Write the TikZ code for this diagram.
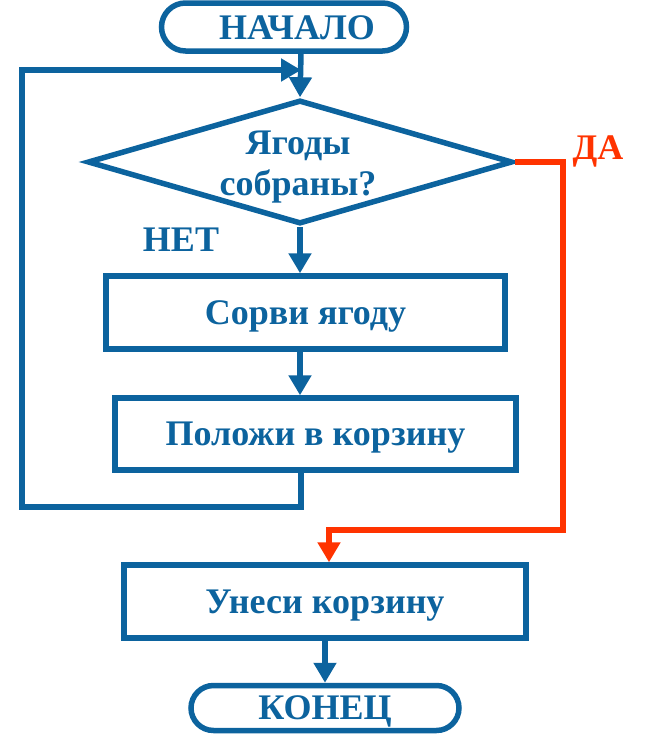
\documentclass[tikz,border=0pt]{standalone}
\usepackage{fontspec}
\setmainfont{Liberation Serif}
\usetikzlibrary{arrows.meta,shapes.misc,shapes.geometric}
\definecolor{fblue}{RGB}{12,99,158}
\definecolor{fred}{RGB}{255,51,0}
\begin{document}
\begin{tikzpicture}[x=1pt,y=-1pt,
  every node/.style={font=\bfseries\fontsize{36}{41}\selectfont, text=fblue},
  conn/.style={draw=fblue, line width=5.5pt, line join=miter},
  redconn/.style={draw=fred, line width=5.5pt, line join=miter},
  tip/.style={-{Triangle[length=20pt,width=22pt]}},
  term/.style={draw=fblue, line width=5.5pt, rounded rectangle, inner sep=0pt},
  procbox/.style={draw=fblue, line width=5.5pt, rectangle, inner sep=0pt, fill=white, text depth=0pt},
  txt/.style={inner sep=0pt, align=center}
]
\useasboundingbox (0,0) rectangle (646,744);
% terminators
\node[term, minimum width=245pt, minimum height=48pt] (start) at (284,27) {};
\node[txt, text depth=0pt] (starttxt) at (297,28) {НАЧАЛО};
\node[term, minimum width=268pt, minimum height=45pt, text depth=0pt] (stop) at (325,708) {КОНЕЦ};
% decision
\node[draw=fblue, line width=5.5pt, diamond, shape aspect=3.4, minimum width=425pt, minimum height=124pt, inner sep=0pt] (dec) at (300,162) {};
\node[txt] (dectxt) at (298,167) {Ягоды\\собраны?};
% process boxes
\node[procbox, minimum width=399pt, minimum height=73pt] (b1) at (305.5,312.5) {Сорви ягоду};
\node[procbox, minimum width=401pt, minimum height=72pt] (b2) at (315.5,434) {Положи в корзину};
\node[procbox, minimum width=402pt, minimum height=73pt] (b3) at (325,601.5) {Унеси корзину};
% labels
\node[txt, text depth=0pt] (net) at (181,240) {НЕТ};
\node[txt, text=fred, text depth=0pt] (da) at (598,148) {ДА};
% coordinates
\coordinate (loopin) at (301,70);
\coordinate (loopbr) at (301,507);
\coordinate (loopbl) at (22,507);
\coordinate (looptl) at (22,70);
\coordinate (redtr) at (563,162);
\coordinate (redbr) at (563,530);
\coordinate (redbl) at (329,530);
% connectors
\draw[conn, tip] (start.south -| loopin) -- (dec.north);
\draw[conn, tip] (dec.south) -- (dec.south |- b1.north);
\draw[conn, tip] (b1.south -| dec.south) -- (b2.north -| dec.south);
\draw[conn, tip] (b2.south -| loopbr) -- (loopbr) -- (loopbl) -- (looptl) -- (loopin);
\draw[redconn, tip] (dec.east) -- (redtr) -- (redbr) -- (redbl) -- (redbl |- b3.north);
\draw[conn, tip] (b3.south -| stop.north) -- (stop.north);
\end{tikzpicture}
\end{document}
